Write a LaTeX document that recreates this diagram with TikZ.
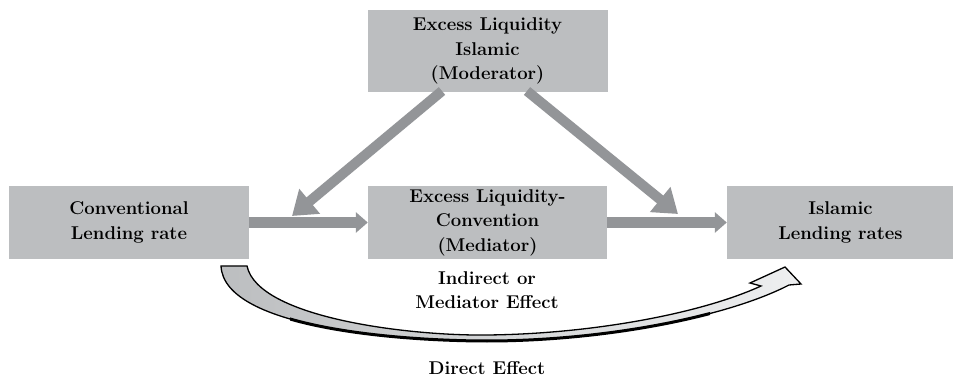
\documentclass[tikz,border=0pt]{standalone}
\usetikzlibrary{arrows.meta}
\definecolor{boxgray}{HTML}{BCBEC0}
\definecolor{arrgray}{HTML}{939598}
\definecolor{lightarr}{HTML}{EEEFF0}
\begin{document}
\begin{tikzpicture}[x=1pt,y=-1pt,
  box/.style={fill=boxgray, draw=none, align=center, inner sep=0pt,
    font=\fontsize{18.5}{24.5}\selectfont\bfseries},
  lbl/.style={align=center, inner sep=0pt, font=\fontsize{18.5}{24.5}\selectfont\bfseries},
  hbar/.style={draw=arrgray, line width=11pt, -{Triangle[width=20pt,length=12pt]}},
  dbar/.style={draw=arrgray, line width=10pt, -{Triangle[width=31pt,length=23pt]}}]
\useasboundingbox (0,0) rectangle (953,379);
\node[box, minimum width=240pt, minimum height=82pt] (top) at (487.5,51) {Excess Liquidity\\Islamic\\(Moderator)};
\node[box, minimum width=240pt, minimum height=73pt] (left) at (129,222.5) {Conventional\\Lending rate};
\node[box, minimum width=239pt, minimum height=73pt] (mid) at (487.5,222.5) {Excess Liquidity-\\Convention\\(Mediator)};
\node[box, minimum width=227pt, minimum height=73pt] (right) at (840.5,222.5) {Islamic\\Lending rates};
\node[lbl] (ind) at (487,290) {Indirect or\\Mediator Effect};
\node[lbl] (dir) at (487,368) {Direct Effect};
% straight arrows
\draw[hbar] (left.east) -- (mid.west);
\draw[hbar] (mid.east) -- (right.west);
\coordinate (d1s) at (442,91);
\coordinate (d1e) at (292,216);
\coordinate (d2s) at (527,91);
\coordinate (d2e) at (678,214);
\draw[dbar] (d1s) -- (d1e);
\draw[dbar] (d2s) -- (d2e);
% curved direct-effect arrow
\path[left color=boxgray, right color=lightarr, draw=black, line width=1.3pt, line join=miter]
  (221,266) .. controls (224,330) and (410,341) .. (487,341)
  .. controls (600,341) and (725,318) .. (789,285)
  -- (801,284) -- (785,267) -- (750,283) -- (761,286)
  .. controls (700,314) and (590,334) .. (487,335)
  .. controls (410,336) and (258,318) .. (247,266) -- cycle;
\begin{scope}
\clip (290,300) rectangle (710,360);
\draw[black, line width=3pt]
  (221,266) .. controls (224,330) and (410,341) .. (487,341)
  .. controls (600,341) and (725,318) .. (789,285);
\end{scope}
\end{tikzpicture}
\end{document}
